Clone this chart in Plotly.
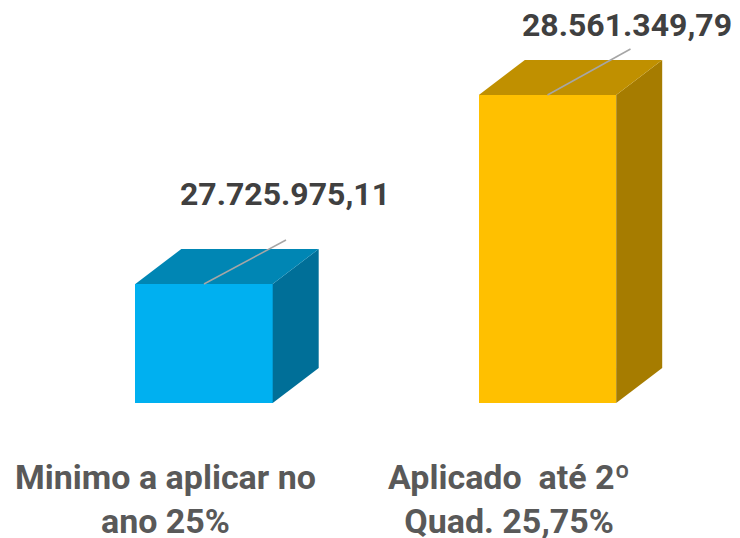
import plotly.graph_objects as go

# ---- data ----
categories = ["Minimo a aplicar no<br>ano 25%", "Aplicado  até 2º<br>Quad. 25,75%"]
values = [27725975.11, 28561349.79]
value_labels = ["27.725.975,11", "28.561.349,79"]
axis_min = 27200000

front_colors = ["#00B0F0", "#FFC000"]
top_colors = ["#0086B4", "#C09000"]
side_colors = ["#006F98", "#A67C00"]

# ---- geometry (pixel-based scales; page has an 8px body margin) ----
page_off = 8
W, H = 740 - page_off, 538 - page_off
base_px = 403 - page_off     # pixel row of the floor
units_per_px = 4420.0        # data units per vertical pixel
cat_spacing_px = 343.5       # pixels between category centres
first_center_px = 204 - page_off
bar_w = 0.4                  # fraction of category spacing
y_lo = axis_min - (H - base_px) * units_per_px
y_hi = axis_min + base_px * units_per_px
x_lo = -first_center_px / cat_spacing_px
x_hi = (W - first_center_px) / cat_spacing_px

def px_x(p):
    return p / cat_spacing_px

def px_y(p):
    return p * units_per_px

dx = px_x(46)
dy = px_y(35)

fig = go.Figure()
xs = list(range(len(categories)))

for i, v in enumerate(values):
    x = xs[i]
    l, r = x - bar_w / 2, x + bar_w / 2
    # side face
    fig.add_trace(go.Scatter(
        x=[r, r, r + dx, r + dx, r],
        y=[axis_min, v, v + dy, axis_min + dy, axis_min],
        fill="toself", fillcolor=side_colors[i], mode="lines",
        line=dict(width=0, color=side_colors[i]), hoverinfo="skip", showlegend=False))
    # top face
    fig.add_trace(go.Scatter(
        x=[l, l + dx, r + dx, r, l],
        y=[v, v + dy, v + dy, v, v],
        fill="toself", fillcolor=top_colors[i], mode="lines",
        line=dict(width=0, color=top_colors[i]), hoverinfo="skip", showlegend=False))

# front faces
fig.add_trace(go.Bar(
    x=xs, y=[v - axis_min for v in values], base=axis_min,
    width=bar_w, marker=dict(color=front_colors, line=dict(width=0)),
    hoverinfo="skip", showlegend=False))

# leader lines and value labels
lead_end = [(82, 44), (83, 46)]
label_off = [(81, 90), (79, 70)]
for i, v in enumerate(values):
    x = xs[i]
    ex, ey = lead_end[i]
    fig.add_trace(go.Scatter(
        x=[x, x + px_x(ex)], y=[v, v + px_y(ey)], mode="lines",
        line=dict(color="#A6A6A6", width=1.5), hoverinfo="skip", showlegend=False))
    ox, oy = label_off[i]
    fig.add_annotation(
        x=x + px_x(ox), y=v + px_y(oy), text="<b>%s</b>" % value_labels[i],
        showarrow=False, xanchor="center", yanchor="middle", borderpad=0,
        font=dict(family="Roboto, sans-serif", size=32, color="#404040"))

# category labels
for i, c in enumerate(categories):
    fig.add_annotation(
        x=xs[i] + px_x(-39), y=axis_min - px_y(96), text="<b>%s</b>" % c,
        showarrow=False, xanchor="center", yanchor="middle", borderpad=0,
        font=dict(family="Roboto, sans-serif", size=34, color="#595959"))

fig.update_layout(
    width=W, height=H, margin=dict(l=0, r=0, t=0, b=0),
    paper_bgcolor="white", plot_bgcolor="white",
    xaxis=dict(range=[x_lo, x_hi], visible=False, fixedrange=True),
    yaxis=dict(range=[y_lo, y_hi], visible=False, fixedrange=True),
    bargap=0,
)
fig.write_html("out.html")
